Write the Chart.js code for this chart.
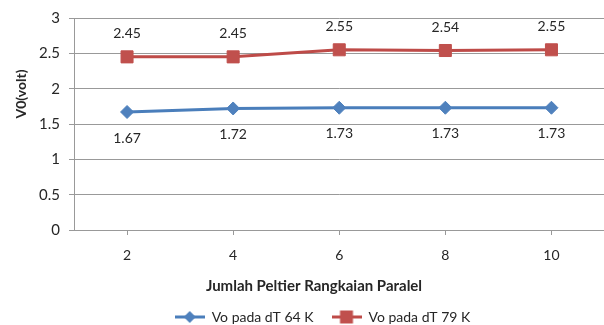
<!DOCTYPE html>
<html>
<head>
<meta charset="utf-8">
<script src="https://cdn.jsdelivr.net/npm/chart.js@4/dist/chart.umd.min.js"></script>
<style>
    html, body { margin: 0; padding: 0; background: #fff; overflow: hidden; width: 604px; height: 325px; }
    #chart { position: absolute; left: 0; top: 0; }
</style>
</head>
<body>
<canvas id="chart" width="614" height="334"></canvas>
<script>
const categories = ["2", "4", "6", "8", "10"];
const vo64 = [1.67, 1.72, 1.73, 1.73, 1.73];
const vo79 = [2.45, 2.45, 2.55, 2.54, 2.55];
const seriesNames = ["Vo pada dT 64 K", "Vo pada dT 79 K"];
const xTitle = "Jumlah Peltier Rangkaian Paralel";
const yTitle = "V0(volt)";

const BLUE_LINE = "#4a7ebb";
const BLUE_MARK = "#4f81bd";
const RED_LINE = "#be4b48";
const RED_MARK = "#c0504d";
const GRID = "#999999";
const TEXT = "#262626";
const FONT = "Lato";

// legend swatch: line with the marker in the middle
function legendSwatch(lineColor, markColor, shape) {
    const c = document.createElement("canvas");
    c.width = 30;
    c.height = 14;
    const ctx = c.getContext("2d");
    ctx.strokeStyle = lineColor;
    ctx.lineWidth = 3;
    ctx.beginPath();
    ctx.moveTo(0, 7);
    ctx.lineTo(30, 7);
    ctx.stroke();
    ctx.fillStyle = markColor;
    ctx.beginPath();
    if (shape === "diamond") {
        ctx.moveTo(15, 1);
        ctx.lineTo(21, 7);
        ctx.lineTo(15, 13);
        ctx.lineTo(9, 7);
    } else {
        ctx.rect(8.5, 0.5, 13, 13);
    }
    ctx.closePath();
    ctx.fill();
    return c;
}

const swatches = [
    legendSwatch(BLUE_LINE, BLUE_MARK, "diamond"),
    legendSwatch(RED_LINE, RED_MARK, "square")
];

const valueLabels = {
    id: "valueLabels",
    afterDatasetsDraw(chart) {
        const ctx = chart.ctx;
        ctx.save();
        ctx.font = `14px ${FONT}`;
        ctx.fillStyle = TEXT;
        ctx.textAlign = "center";
        ctx.textBaseline = "middle";
        chart.data.datasets.forEach((ds, i) => {
            const meta = chart.getDatasetMeta(i);
            const offset = i === 0 ? 26 : -23;
            meta.data.forEach((pt, j) => {
                ctx.fillText(ds.data[j].toFixed(2), pt.x, pt.y + offset);
            });
        });
        ctx.restore();
    }
};

const axisTitles = {
    id: "axisTitles",
    afterDraw(chart) {
        const ctx = chart.ctx;
        ctx.save();
        ctx.fillStyle = TEXT;
        ctx.textAlign = "center";
        ctx.textBaseline = "middle";
        ctx.font = `bold 15px ${FONT}`;
        ctx.fillText(xTitle, 314, 286);
        ctx.font = `bold 14px ${FONT}`;
        ctx.translate(21, 94);
        ctx.rotate(-Math.PI / 2);
        ctx.fillText(yTitle, 0, 0);
        ctx.restore();
    }
};

new Chart(document.getElementById("chart"), {
    type: "line",
    data: {
        labels: categories,
        datasets: [
            {
                label: seriesNames[0],
                data: vo64,
                borderColor: BLUE_LINE,
                backgroundColor: BLUE_MARK,
                borderWidth: 3,
                pointStyle: "rectRot",
                pointRadius: 6.5,
                pointBorderWidth: 1,
                pointBorderColor: BLUE_MARK,
                pointBackgroundColor: BLUE_MARK,
                tension: 0
            },
            {
                label: seriesNames[1],
                data: vo79,
                borderColor: RED_LINE,
                backgroundColor: RED_MARK,
                borderWidth: 3,
                pointStyle: "rect",
                pointRadius: 8.5,
                pointBorderWidth: 1,
                pointBorderColor: RED_MARK,
                pointBackgroundColor: RED_MARK,
                tension: 0
            }
        ]
    },
    options: {
        responsive: false,
        animation: false,
        layout: { padding: { left: 31, right: 0, top: 18, bottom: 0 } },
        plugins: {
            title: { display: false },
            tooltip: { enabled: false },
            legend: {
                position: "bottom",
                labels: {
                    usePointStyle: true,
                    pointStyleWidth: 30,
                    boxHeight: 14,
                    padding: 18,
                    color: TEXT,
                    font: { family: FONT, size: 14 },
                    generateLabels(chart) {
                        const items = Chart.defaults.plugins.legend.labels.generateLabels(chart);
                        items.forEach((it, i) => { it.pointStyle = swatches[i]; });
                        return items;
                    }
                }
            }
        },
        scales: {
            x: {
                offset: true,
                grid: {
                    drawOnChartArea: false,
                    drawTicks: true,
                    tickLength: 5,
                    color: GRID
                },
                border: { color: GRID },
                ticks: {
                    color: TEXT,
                    padding: 12,
                    font: { family: FONT, size: 14 }
                },
                afterFit(s) { s.height = 62; }
            },
            y: {
                min: 0,
                max: 3,
                grid: {
                    color: GRID,
                    tickLength: 5
                },
                border: { color: GRID },
                ticks: {
                    stepSize: 0.5,
                    color: TEXT,
                    padding: 9,
                    font: { family: FONT, size: 15 },
                    callback: v => String(Math.round(v * 10) / 10)
                },
                afterFit(s) { s.width = 43; }
            }
        }
    },
    plugins: [valueLabels, axisTitles]
});
</script>
</body>
</html>
